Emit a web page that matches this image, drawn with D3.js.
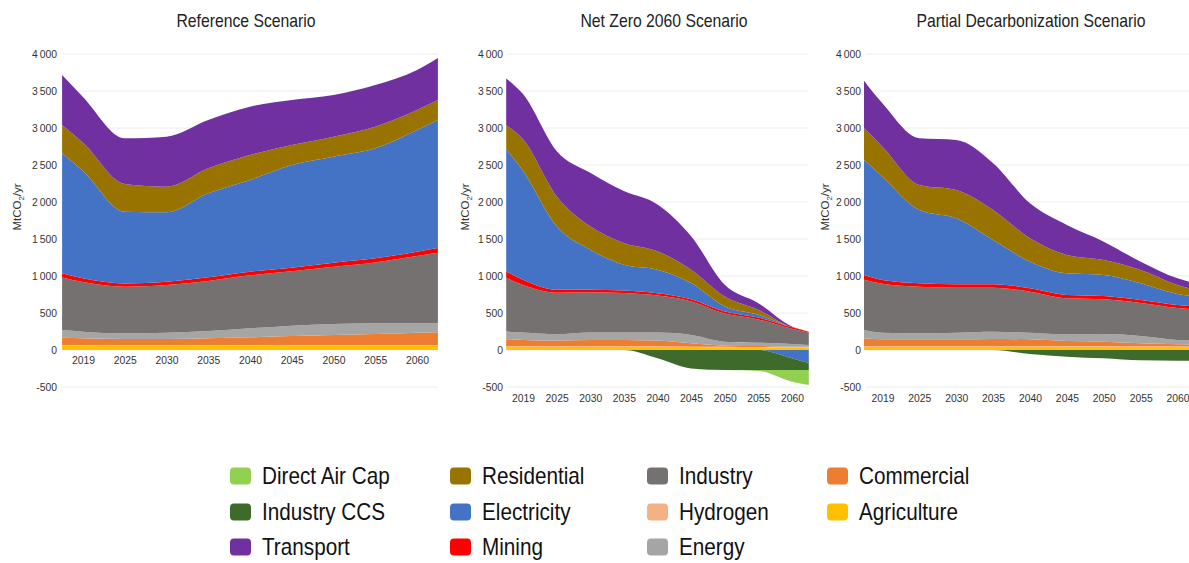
<!DOCTYPE html>
<html><head><meta charset="utf-8">
<script src="https://cdn.jsdelivr.net/npm/d3@7"></script>
<style>
body{margin:0;background:#fff;}
svg{display:block;font-family:"Liberation Sans",Arial,sans-serif;}
</style></head><body>
<svg id="chart" width="1189" height="563"></svg>
<script>
// ---------- data ----------
const tickLabels = ["2019","2025","2030","2035","2040","2045","2050","2055","2060"];
const xPoints = [-0.5,0,1,2,3,4,5,6,7,8,8.5];   // index positions on the categorical axis
const yTicks = [-500,0,500,1000,1500,2000,2500,3000,3500,4000];
const scenarioTitles = ["Reference Scenario","Net Zero 2060 Scenario","Partial Decarbonization Scenario"];
const seriesNames = ["Agriculture","Hydrogen","Commercial","Energy","Industry","Mining","Electricity","Residential","Transport","Industry CCS","Direct Air Cap"];
const seriesColors = ["#ffc000","#f4b183","#ed7d31","#a5a5a5","#767171","#ff0000","#4472c4","#997300","#7030a0","#3e6b2b","#92d050"];
const legendOrder = ["Direct Air Cap","Industry CCS","Transport","Residential","Electricity","Mining","Industry","Hydrogen","Energy","Commercial","Agriculture"];

// Reference Scenario (MtCO2/yr)
const refAgriculture  = [62,62,62,62,62,62,62,62,62,62,62];
const refHydrogen     = [5,5,5,5,5,5,5,5,5,5,5];
const refCommercial   = [100,91,82,82,91,104,122,136,149,167,173];
const refEnergy       = [103,90,76,85,99,122,140,148,144,126,120];
const refIndustry     = [711,670,630,644,675,716,734,774,824,909,953];
const refMining       = [55,50,45,45,50,50,50,55,55,60,65];
const refElectricity  = [1622,1452,969,937,1135,1238,1387,1433,1486,1644,1730];
const refResidential  = [382,380,374,347,338,338,270,270,293,270,270];
const refTransport    = [676,619,617,676,653,653,608,563,563,541,568];
const refIndustryCCS  = [0,0,0,0,0,0,0,0,0,0,0];
const refDirectAirCap = [0,0,0,0,0,0,0,0,0,0,0];

// Net Zero 2060 Scenario
const nzAgriculture  = [45,45,45,45,45,45,40,35,30,30,30];
const nzHydrogen     = [5,5,5,5,5,5,5,8,10,10,10];
const nzCommercial   = [95,86,77,86,86,77,45,16,14,5,5];
const nzEnergy       = [104,99,85,99,99,108,113,54,45,36,23];
const nzIndustry     = [723,644,562,544,535,501,454,379,314,206,164];
const nzMining       = [90,70,40,35,35,32,30,28,25,20,15];
const nzElectricity  = [1650,1469,858,542,347,317,217,68,37,-110,-176];
const nzResidential  = [325,429,407,316,294,248,181,135,67,0,0];
const nzTransport    = [633,611,611,723,701,633,452,158,91,10,0];
const nzIndustryCCS  = [0,0,0,0,0,-113,-249,-271,-271,-160,-94];
const nzDirectAirCap = [0,0,0,0,0,0,0,0,-12,-158,-203];

// Partial Decarbonization Scenario
const pdAgriculture  = [45,45,45,45,45,45,45,45,40,40,40];
const pdHydrogen     = [5,5,5,5,5,5,8,10,12,12,12];
const pdCommercial   = [108,94,94,94,99,94,69,58,38,25,20];
const pdEnergy       = [112,90,81,90,99,90,90,103,99,58,54];
const pdIndustry     = [679,662,631,608,594,554,486,469,447,433,420];
const pdMining       = [65,50,45,45,45,45,45,45,40,40,40];
const pdElectricity  = [1554,1396,991,892,599,361,293,284,225,149,135];
const pdResidential  = [427,406,338,383,406,315,248,202,180,121,90];
const pdTransport    = [645,585,630,676,631,473,405,248,113,90,89];
const pdIndustryCCS  = [0,0,0,0,0,-55,-90,-113,-140,-145,-145];
const pdDirectAirCap = [0,0,0,0,0,0,0,0,0,0,0];

const scenarioSeries = [
  [refAgriculture,refHydrogen,refCommercial,refEnergy,refIndustry,refMining,refElectricity,refResidential,refTransport,refIndustryCCS,refDirectAirCap],
  [nzAgriculture,nzHydrogen,nzCommercial,nzEnergy,nzIndustry,nzMining,nzElectricity,nzResidential,nzTransport,nzIndustryCCS,nzDirectAirCap],
  [pdAgriculture,pdHydrogen,pdCommercial,pdEnergy,pdIndustry,pdMining,pdElectricity,pdResidential,pdTransport,pdIndustryCCS,pdDirectAirCap]
];

// ---------- layout ----------
const SX = 0.9; // horizontal condensing of all text
const EPS = 1e-6;
const panels = [
  {x0:62.1, x1:437.9, gridL:63, gridR:438, axisX:57, yTitleX:17, xLabelY:362, titleX:246},
  {x0:506.2, x1:808.8, gridL:507, gridR:808, axisX:503, yTitleX:465, xLabelY:400, titleX:664},
  {x0:864, x1:1196, gridL:866, gridR:1189, axisX:861, yTitleX:825, xLabelY:400, titleX:1031}
];
// stack keys: positive parts and negative parts kept in separate series so that
// a sign change or a zero never jumps across the other layers
const negativeSeries = ["Industry CCS","Direct Air Cap"];
const stackKeys = ["Agriculture","Hydrogen","Commercial","Energy","Industry","Mining","Electricity","Electricity (neg)","Residential","Transport","Industry CCS","Direct Air Cap"];

const svg = d3.select("#chart");
const y = d3.scaleLinear().domain([-500,4000]).range([387,54]);
const color = d3.scaleOrdinal().domain(seriesNames).range(seriesColors);
const loc = d3.formatLocale({decimal:".", thousands:"\u2009", grouping:[3], currency:["",""], minus:"-"});
const fmt = loc.format(",d");

function ctext(g, x, yy, txt, size, anchor, fill){
  return g.append("text")
    .attr("transform", `translate(${x},${yy}) scale(${SX},1)`)
    .attr("text-anchor", anchor).attr("font-size", size).attr("fill", fill||"#222")
    .text(txt);
}

panels.forEach((p, si) => {
  const g = svg.append("g");
  const x = d3.scaleLinear().domain([-0.5,8.5]).range([p.x0,p.x1]);
  const rows = xPoints.map((xp, i) => {
    const r = {x: xp};
    seriesNames.forEach((n, k) => {
      const v = scenarioSeries[si][k][i];
      if (negativeSeries.includes(n)) r[n] = Math.min(v, 0) - EPS;
      else if (n === "Electricity") { r[n] = Math.max(v, 0) + EPS; r["Electricity (neg)"] = Math.min(v, 0) - EPS; }
      else r[n] = Math.max(v, 0) + EPS;
    });
    return r;
  });
  const stacked = d3.stack().keys(stackKeys).offset(d3.stackOffsetDiverging)(rows);

  // gridlines
  g.append("g").selectAll("line").data(yTicks).join("line")
    .attr("x1", p.gridL).attr("x2", p.gridR)
    .attr("y1", d => y(d)).attr("y2", d => y(d))
    .attr("stroke", "#ececec").attr("stroke-width", 1);

  const area = d3.area()
    .x(d => x(d.data.x)).y0(d => y(d[0])).y1(d => y(d[1]))
    .curve(d3.curveMonotoneX);
  g.append("g").selectAll("path").data(stacked).join("path")
    .attr("fill", d => color(d.key.replace(" (neg)", ""))).attr("d", area);

  // y axis
  const ya = g.append("g").attr("transform", `translate(${p.axisX},0)`)
    .call(d3.axisLeft(y).tickValues(yTicks).tickSize(0).tickPadding(0)
      .tickFormat(d => d < 0 ? "-" + fmt(-d) : fmt(d)));
  ya.select(".domain").remove();
  ya.selectAll("text").attr("font-size", 11.5).attr("fill", "#333")
    .attr("font-family", "Liberation Sans, Arial, sans-serif")
    .attr("transform", `scale(${SX},1)`);

  // x axis
  const xa = g.append("g").attr("transform", `translate(0,${p.xLabelY - 2})`)
    .call(d3.axisBottom(x).tickValues(d3.range(tickLabels.length)).tickSize(0).tickPadding(0)
      .tickFormat(i => tickLabels[i]));
  xa.select(".domain").remove();
  xa.selectAll("text").attr("font-size", 11.5).attr("fill", "#333")
    .attr("font-family", "Liberation Sans, Arial, sans-serif")
    .attr("dy", "0.32em")
    .attr("transform", `scale(${SX},1)`);

  // y title
  const yt = g.append("text")
    .attr("transform", `translate(${p.yTitleX + 4},207) rotate(-90) scale(1,${SX})`)
    .attr("text-anchor", "middle").attr("font-size", 11.5).attr("fill", "#333");
  yt.append("tspan").text("MtCO");
  yt.append("tspan").attr("font-size", 8).attr("dy", 3).text("2");
  yt.append("tspan").attr("dy", -3).text("/yr");

  // title
  ctext(g, p.titleX, 27, scenarioTitles[si], 17.5, "middle", "#222");
});

// legend
const legCols = [230, 450, 647, 827];
const legRows = [476, 512, 547];
const lg = svg.append("g");
legendOrder.forEach((name, i) => {
  const c = Math.floor(i / 3), r = i % 3;
  const gx = legCols[c], gy = legRows[r];
  lg.append("rect").attr("x", gx).attr("y", gy - 8.5).attr("width", 21).attr("height", 17)
    .attr("rx", 4).attr("fill", color(name));
  ctext(lg, gx + 32, gy + 8, name, 23, "start", "#111");
});
</script>
</body></html>
